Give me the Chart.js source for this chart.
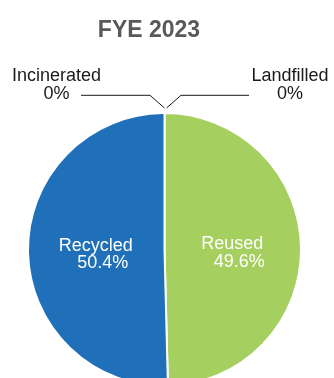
<!DOCTYPE html>
<html>
<head>
<meta charset="utf-8">
<script src="https://cdn.jsdelivr.net/npm/chart.js@4"></script>
<style>
  html, body { margin: 0; padding: 0; background: #fff; overflow: hidden; }
  #wrap { position: relative; width: 334px; height: 400px; }
</style>
</head>
<body>
<div id="wrap"><canvas id="fye-chart"></canvas></div>
<script>
const chartTitle = "FYE 2023";
const categories = ["Reused", "Recycled", "Incinerated", "Landfilled"];
const shares = [49.6, 50.4, 0, 0];
const sliceColors = ["#a5cf5e", "#1f70b8", "#7f7f7f", "#c0504d"];

const fontFamily = "'Liberation Sans', Arial, sans-serif";

const fmtPct = v => (v === 0 ? "0" : v.toFixed(1)) + "%";

// title sits left of the pie centre, so it is drawn by hand
const titleText = {
  id: "titleText",
  afterDraw(chart) {
    const ctx = chart.ctx;
    ctx.save();
    ctx.font = "bold 23px " + fontFamily;
    ctx.fillStyle = "#595959";
    ctx.textAlign = "center";
    ctx.textBaseline = "alphabetic";
    ctx.fillText(chartTitle, 149, 36.7);
    ctx.restore();
  }
};

// draws the in-slice labels and the leader lines for the empty slices
const sliceLabels = {
  id: "sliceLabels",
  afterDatasetsDraw(chart) {
    const ctx = chart.ctx;
    const meta = chart.getDatasetMeta(0);
    ctx.save();
    ctx.font = "18px " + fontFamily;
    ctx.textAlign = "center";
    ctx.textBaseline = "alphabetic";
    let outside = 0;
    meta.data.forEach((arc, i) => {
      const val = shares[i];
      if (val > 0) {
        const p = arc.getCenterPoint();
        ctx.fillStyle = "#ffffff";
        ctx.fillText(categories[i], p.x - 0.5, p.y + 0.5);
        ctx.fillText(fmtPct(val), p.x + 6.5, p.y + 18);
        return;
      }
      const side = outside++ === 0 ? -1 : 1;
      const R = arc.outerRadius;
      const tx = arc.x + Math.cos(arc.startAngle) * R;
      const ty = arc.y + Math.sin(arc.startAngle) * R;
      const apexX = tx + (side < 0 ? 0 : 2);
      const apexY = ty - 5;
      const elbowX = apexX + side * 14.5;
      const elbowY = ty - 17.7;
      const endX = side < 0 ? elbowX - 69 : elbowX + 68;
      ctx.strokeStyle = "#1a1a1a";
      ctx.lineWidth = 1;
      ctx.beginPath();
      ctx.moveTo(apexX, apexY);
      ctx.lineTo(elbowX, elbowY);
      ctx.lineTo(endX, elbowY);
      ctx.stroke();
      const textX = side < 0 ? endX - 24.5 : endX + 41;
      ctx.fillStyle = "#1a1a1a";
      ctx.fillText(categories[i], textX, elbowY - 14.3);
      ctx.fillText(fmtPct(val), textX, elbowY + 3.7);
    });
    ctx.restore();
  }
};

new Chart("fye-chart", {
  type: "pie",
  data: {
    labels: categories,
    datasets: [
      {
        data: shares,
        backgroundColor: sliceColors,
        borderColor: "#ffffff",
        borderWidth: 2
      }
    ]
  },
  options: {
    responsive: true,
    maintainAspectRatio: false,
    animation: false,
    layout: { padding: { top: 112, left: 27, right: 32, bottom: 13 } },
    plugins: {
      legend: { display: false },
      tooltip: { enabled: false },
      title: { display: false }
    }
  },
  plugins: [sliceLabels, titleText]
});
</script>
</body>
</html>
